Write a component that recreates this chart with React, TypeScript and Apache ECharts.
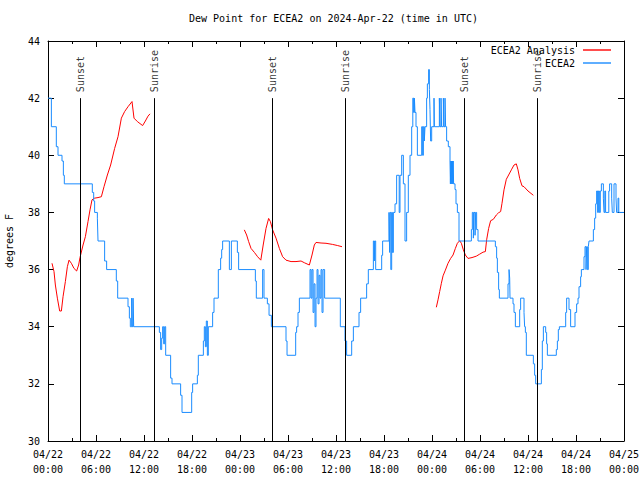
import React, { useEffect, useRef } from "react";
import * as echarts from "echarts";

const titleText = "Dew Point for ECEA2 on 2024-Apr-22 (time in UTC)";
const yAxisName = "degrees F";
const seriesNames = ["ECEA2 Analysis", "ECEA2"];

// x positions are hours since 2024-04-22 00:00 UTC
const xTickLabels = [
  "04/22\n00:00", "04/22\n06:00", "04/22\n12:00", "04/22\n18:00",
  "04/23\n00:00", "04/23\n06:00", "04/23\n12:00", "04/23\n18:00",
  "04/24\n00:00", "04/24\n06:00", "04/24\n12:00", "04/24\n18:00",
  "04/25\n00:00",
];

const sunEventNames = ["Sunset", "Sunrise", "Sunset", "Sunrise", "Sunset", "Sunrise"];
const sunEventHours = [4.0, 13.25, 28.0, 37.17, 52.0, 61.17];

// Analysis (red), three separate runs
const analysisRun1 = [
  [0.5, 36.22], [0.75, 35.93], [0.92, 35.46], [1.17, 35.0], [1.46, 34.55], [1.67, 34.55],
  [1.88, 35.05], [2.17, 35.58], [2.42, 36.1], [2.63, 36.33], [2.92, 36.22], [3.25, 36.04],
  [3.58, 35.95], [3.83, 36.16], [4.0, 36.42], [4.38, 36.86], [4.67, 37.15], [5.0, 37.68],
  [5.25, 38.09], [5.5, 38.44], [5.83, 38.5], [6.25, 38.52], [6.67, 38.55], [7.0, 38.9],
  [7.42, 39.31], [7.83, 39.66], [8.33, 40.24], [8.75, 40.65], [9.17, 41.3], [9.58, 41.53],
  [10.0, 41.7], [10.5, 41.88], [10.75, 41.3], [11.17, 41.18], [11.83, 41.04], [12.17, 41.2],
  [12.5, 41.37], [12.75, 41.45],
];
const analysisRun2 = [
  [24.54, 37.39], [24.83, 37.21], [25.08, 36.98], [25.38, 36.74], [25.8, 36.6], [26.2, 36.45],
  [26.6, 36.33], [26.9, 36.86], [27.25, 37.44], [27.58, 37.79], [27.8, 37.68], [28.08, 37.39],
  [28.5, 37.1], [28.92, 36.74], [29.33, 36.45], [29.75, 36.33], [30.38, 36.28], [31.0, 36.28],
  [31.63, 36.3], [32.04, 36.24], [32.67, 36.16], [33.0, 36.51], [33.29, 36.86], [33.5, 36.95],
  [34.13, 36.93], [34.75, 36.92], [35.58, 36.88], [36.21, 36.84], [36.75, 36.8],
];
const analysisRun3 = [
  [48.54, 34.68], [48.75, 34.94], [48.96, 35.23], [49.17, 35.52], [49.38, 35.78], [49.67, 35.98],
  [50.0, 36.22], [50.33, 36.39], [50.63, 36.51], [50.92, 36.74], [51.17, 36.92], [51.46, 37.01],
  [51.67, 36.92], [51.92, 36.69], [52.17, 36.51], [52.5, 36.39], [53.0, 36.42], [53.54, 36.47],
  [53.96, 36.54], [54.38, 36.61], [54.67, 36.63], [54.83, 37.04], [55.08, 37.44], [55.33, 37.71],
  [55.67, 37.76], [56.04, 37.91], [56.33, 37.99], [56.58, 38.03], [56.75, 38.32], [57.0, 38.79],
  [57.29, 39.16], [57.58, 39.31], [57.92, 39.49], [58.25, 39.66], [58.54, 39.7], [58.75, 39.49],
  [58.96, 39.19], [59.25, 38.93], [59.5, 38.9], [60.0, 38.75], [60.67, 38.6],
];

// Station observations (blue), [hour, value] at each change, drawn as steps
const stationObs = [
  [0, 42], [0.42, 41], [1.04, 40.3], [1.25, 40], [1.75, 39.8], [1.92, 39.3], [2.04, 39],
  [5.54, 38.7], [5.71, 38.4], [5.83, 38], [6.17, 37.8], [6.25, 37], [7.08, 36.3], [7.33, 36],
  [8.54, 35.6], [8.71, 35], [10.0, 34.7], [10.17, 34.3], [10.29, 34], [10.46, 35], [10.54, 34],
  [10.63, 35], [10.71, 34],
  [13.92, 33.8], [14.08, 33.2], [14.21, 33.6], [14.33, 34], [14.46, 33.4], [14.58, 34],
  [14.71, 33], [15.33, 32.2], [15.5, 32], [16.58, 31.6], [16.75, 31], [17.96, 31.7], [18.08, 32],
  [18.67, 32.3], [18.79, 33], [19.42, 33.5], [19.54, 34], [19.67, 33.3], [19.79, 34.2],
  [19.92, 33], [20.04, 34], [20.58, 34.5], [20.75, 35], [21.29, 36], [21.58, 36.4], [21.71, 36.7],
  [21.83, 37], [22.67, 36], [22.92, 37], [23.67, 36.6], [23.83, 36],
  [25.92, 35.6], [26.04, 35], [26.83, 36], [27.0, 35], [27.42, 34.8], [27.63, 34.4], [27.92, 34],
  [29.75, 33.5], [29.88, 33], [30.96, 33.8], [31.08, 34], [31.25, 34.5], [31.42, 35],
  [32.75, 36], [32.88, 35], [33.0, 36], [33.13, 34.5], [33.25, 35.5], [33.38, 34], [33.5, 35],
  [33.63, 36], [33.75, 34.8], [33.88, 35.8], [34.0, 35], [34.13, 36], [34.25, 34.5],
  [34.38, 36], [34.58, 35], [36.54, 34],
  [37.125, 33.5], [37.33, 33], [37.96, 33.5], [38.17, 34], [38.875, 34.5], [39.08, 35],
  [39.83, 35.5], [40.04, 36], [40.67, 37], [40.79, 36.3], [40.85, 37], [40.96, 36], [41.71, 36.5],
  [41.83, 37], [42.625, 38], [42.7, 36.6], [42.75, 38], [42.85, 36], [42.96, 38], [43.05, 36.6],
  [43.17, 38], [43.375, 38.3], [43.58, 39.3], [43.9, 38], [44.0, 39.3], [44.21, 40], [44.42, 39],
  [44.625, 37], [44.83, 38], [45.04, 39.3], [45.25, 40], [45.46, 41], [45.6, 42], [45.7, 41.5],
  [45.8, 42], [45.875, 41.5], [46.0, 41], [46.17, 40], [46.71, 41], [46.83, 40], [46.92, 41],
  [47.04, 40.5], [47.125, 41], [47.33, 42], [47.42, 42.5], [47.58, 43], [47.67, 42.3],
  [47.75, 41.6], [47.83, 40.5], [47.96, 41], [48.25, 42], [48.3, 41], [48.92, 42], [49.0, 41],
  [49.125, 42], [49.2, 41], [49.42, 42], [49.5, 41], [49.625, 42], [49.7, 41], [49.83, 40.5],
  [50.04, 40.3], [50.25, 39.8], [50.3, 39], [50.35, 39.8], [50.4, 39], [50.45, 39.8], [50.5, 39],
  [50.55, 39.8], [50.6, 39], [50.65, 39.8], [50.7, 39], [50.875, 38.8], [51.0, 38.3],
  [51.17, 38], [51.375, 37],
  [52.92, 37.4], [53.04, 38], [53.17, 37.1], [53.25, 38], [53.38, 37.2], [53.46, 38],
  [53.58, 37.4], [53.75, 37], [55.92, 36.8], [56.08, 36.4], [56.17, 35.9], [56.33, 35.3],
  [56.42, 35], [57.5, 35.5], [57.63, 36], [57.71, 35.7], [57.75, 35], [58.125, 34.8],
  [58.25, 34.5], [58.42, 34], [58.96, 34.6], [59.08, 35], [59.5, 34.5], [59.58, 34],
  [59.67, 33.8], [59.79, 33], [60.67, 32.7], [60.83, 32.3], [60.96, 32], [61.67, 32.5],
  [61.79, 33.5], [61.92, 34], [62.21, 33.8], [62.33, 33.4], [62.42, 33], [63.54, 33.2],
  [63.67, 33.5], [63.79, 33.9], [63.92, 34], [64.71, 34.5], [64.83, 35], [65.125, 34.6],
  [65.33, 34], [65.875, 34.5], [66.08, 34.8], [66.25, 35], [66.375, 35.4], [66.58, 35.75],
  [66.67, 36], [67.0, 36.45], [67.125, 36.8], [67.25, 36], [67.33, 36.8], [67.42, 36],
  [67.54, 36.8], [67.625, 37], [68.17, 37.4], [68.33, 37.8], [68.46, 38.3], [68.58, 38.75],
  [68.7, 38], [68.8, 38.75], [68.92, 38], [69.04, 38.75], [69.17, 39], [69.42, 38.5],
  [69.5, 38], [69.6, 38.75], [69.7, 38], [70.1, 38.75], [70.2, 39], [70.46, 38.5], [70.54, 38],
  [70.75, 39], [71.0, 38.5], [71.08, 38], [71.25, 38.5], [71.35, 38], [72, 38],
];

const FONT = "DejaVu Sans Mono";
const RED = "#ff0000";
const BLUE = "#1a8cff";

export default function App() {
  const ref = useRef<HTMLDivElement>(null);
  useEffect(() => {
    document.body.style.margin = "0";
    document.documentElement.style.overflow = "hidden";
    const chart = echarts.init(ref.current!, null, { renderer: "svg" });
    const gap = ["-", "-"];
    const analysisData = [...analysisRun1, gap, ...analysisRun2, gap, ...analysisRun3];
    const tickStyle = { color: "#000", width: 1 };
    const xBase = {
      type: "value",
      min: 0,
      max: 72,
      interval: 6,
      axisLine: { show: true, onZero: false, lineStyle: tickStyle },
      axisTick: { show: true, inside: true, length: 6, lineStyle: tickStyle },
      minorTick: { show: true, splitNumber: 2, length: 3, lineStyle: tickStyle },
      splitLine: { show: false },
      minorSplitLine: { show: false },
    };
    const yBase = {
      type: "value",
      min: 30,
      max: 44,
      interval: 2,
      axisLine: { show: true, onZero: false, lineStyle: tickStyle },
      axisTick: { show: true, inside: true, length: 6, lineStyle: tickStyle },
      splitLine: { show: false },
    };
    chart.setOption({
      animation: false,
      backgroundColor: "#fff",
      title: {
        text: titleText,
        left: 189,
        top: 13,
        padding: 0,
        textStyle: { fontFamily: FONT, fontSize: 10, fontWeight: "normal", color: "#000" },
      },
      legend: {
        data: seriesNames.map((n) => ({ name: n, icon: "rect" })),
        orient: "vertical",
        right: 29,
        top: 45,
        align: "right",
        itemWidth: 28,
        itemHeight: 1.4,
        itemGap: 3,
        padding: 0,
        selectedMode: false,
        textStyle: { fontFamily: FONT, fontSize: 10, color: "#000", padding: [0, 3, 0, 0] },
      },
      grid: {
        left: 48,
        right: 16,
        top: 41,
        bottom: 39,
        containLabel: false,
        outerBoundsMode: "none",
      },
      xAxis: [
        {
          ...xBase,
          position: "bottom",
          axisLabel: {
            show: true,
            formatter: (v: number) => xTickLabels[Math.round(v / 6)] ?? "",
            fontFamily: FONT,
            fontSize: 10,
            color: "#000",
            margin: 6,
            lineHeight: 15,
          },
        },
        { ...xBase, position: "top", axisLabel: { show: false } },
      ],
      yAxis: [
        {
          ...yBase,
          position: "left",
          name: yAxisName,
          nameLocation: "middle",
          nameGap: 34,
          nameTextStyle: { fontFamily: FONT, fontSize: 10, color: "#000" },
          axisLabel: { fontFamily: FONT, fontSize: 10, color: "#000", margin: 8 },
        },
        { ...yBase, position: "right", axisLabel: { show: false } },
      ],
      series: [
        {
          name: "sun",
          type: "scatter",
          xAxisIndex: 0,
          yAxisIndex: 0,
          symbol: "circle",
          symbolSize: 0,
          silent: true,
          data: sunEventHours.map((h, i) => ({ value: [h, 42], name: sunEventNames[i] })),
          label: {
            show: true,
            formatter: "{b}",
            position: "top",
            distance: 6,
            rotate: 90,
            align: "left",
            verticalAlign: "middle",
            fontFamily: FONT,
            fontSize: 10,
            color: "#000",
          },
          markLine: {
            silent: true,
            symbol: ["none", "none"],
            label: { show: false },
            lineStyle: { color: "#000", width: 1, type: "solid" },
            data: sunEventHours.map((h) => [{ coord: [h, 30] }, { coord: [h, 42] }]),
          },
        },
        {
          name: seriesNames[0],
          type: "line",
          xAxisIndex: 0,
          yAxisIndex: 0,
          data: analysisData,
          symbol: "none",
          showSymbol: false,
          connectNulls: false,
          lineStyle: { color: RED, width: 1 },
          itemStyle: { color: RED },
        },
        {
          name: seriesNames[1],
          type: "line",
          xAxisIndex: 0,
          yAxisIndex: 0,
          step: "end",
          data: stationObs,
          symbol: "none",
          showSymbol: false,
          lineStyle: { color: BLUE, width: 1 },
          itemStyle: { color: BLUE },
        },
      ],
    });
    return () => chart.dispose();
  }, []);
  return <div ref={ref} style={{ width: 640, height: 480 }} />;
}
